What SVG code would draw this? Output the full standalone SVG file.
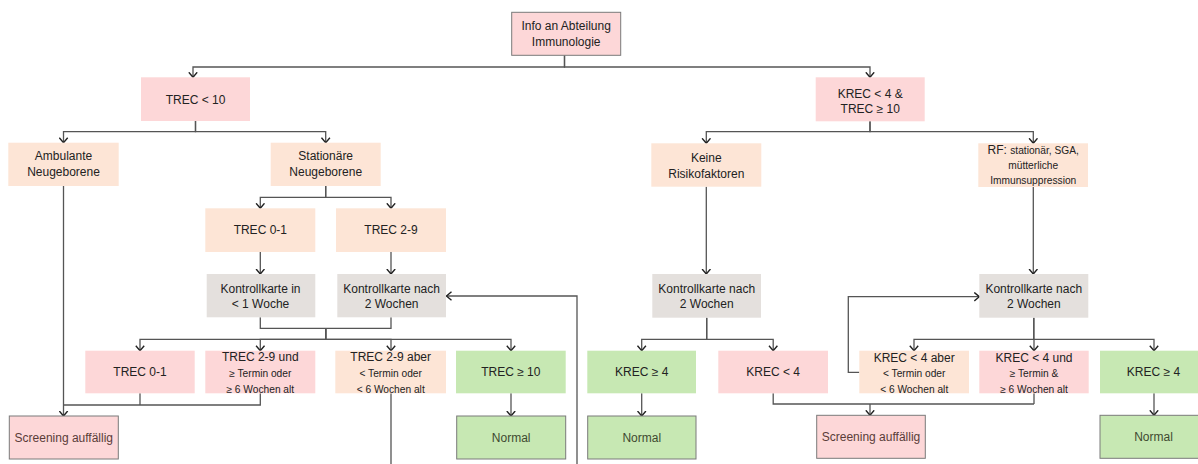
<svg xmlns="http://www.w3.org/2000/svg" width="1198" height="464" viewBox="0 0 1198 464">
<defs>
<marker id="arr" viewBox="0 0 6 10" refX="5.5" refY="5" markerWidth="6" markerHeight="10" markerUnits="userSpaceOnUse" orient="auto">
<path d="M0.5,0.8 L5.5,5 L0.5,9.2" fill="none" stroke="#222" stroke-width="1.4"/>
</marker>
<style>
.pink{fill:#fdd7d8}
.peach{fill:#fde5d6}
.gray{fill:#e4e0dd}
.green{fill:#c7e8b3}
.bord{stroke:#7a7a7a;stroke-width:1}
text{font-family:"Liberation Sans",Arial,sans-serif;font-size:12px;fill:#222;text-anchor:middle}
.s{font-size:10.2px}
.scr{fill:#5a3c38}
.nor{fill:#3e4a30}
.c path{fill:none;stroke:#555;stroke-width:1.3}
.c .a{marker-end:url(#arr)}
</style>
</defs>
<rect width="1198" height="464" fill="#ffffff"/>

<g class="c" id="connectors">
<path class="a" d="M564.5 55.3 V67 H193 V77.3"/>
<path class="a" d="M564.5 55.3 V67 H870 V77.3"/>
<path class="a" d="M195.5 121 V131.7 H63.5 V142.7"/>
<path class="a" d="M195.5 121 V131.7 H325.7 V142.7"/>
<path class="a" d="M870 121.3 V131.7 H706.3 V143.3"/>
<path class="a" d="M870 121.3 V131.7 H1033.3 V143.3"/>
<path class="a" d="M325.7 186 V197.3 H260.3 V208.3"/>
<path class="a" d="M325.7 186 V197.3 H391 V208.3"/>
<path class="a" d="M260.3 252 V274"/>
<path class="a" d="M391 252 V274"/>
<path d="M260.3 317.3 V328.3 H391 V317.3"/>
<path class="a" d="M325.7 328.3 V339.3 H140 V350.7"/>
<path class="a" d="M325.7 328.3 V339.3 H260.3 V350.7"/>
<path class="a" d="M325.7 328.3 V339.3 H391 V350.7"/>
<path class="a" d="M325.7 328.3 V339.3 H511 V350.7"/>
<path class="a" d="M63.5 186 V416"/>
<path d="M260.3 393.3 V405 H63.5"/>
<path d="M140 393.3 V405"/>
<path class="a" d="M391 393.3 V490 H577 V296 H446.5"/>
<path class="a" d="M511 393.3 V416"/>
<path class="a" d="M706.3 186.7 V274"/>
<path class="a" d="M706.7 317.7 V339.3 H641.7 V350.7"/>
<path class="a" d="M706.7 317.7 V339.3 H773.2 V350.7"/>
<path class="a" d="M641.7 393.3 V416"/>
<path d="M773.2 393.3 V404 H1034"/>
<path d="M1034 393.3 V404"/>
<path class="a" d="M870 404 V415.3"/>
<path class="a" d="M1033.3 187 V274"/>
<path class="a" d="M1033.8 317.7 V339.3 H914 V350.7"/>
<path class="a" d="M1033.8 317.7 V339.3 H1034 V350.7"/>
<path class="a" d="M1033.8 339.3 H1154 V350.7"/>
<path class="a" d="M859.3 372.3 H848.3 V296.7 H979.3"/>
<path class="a" d="M1154 393.3 V415.3"/>
</g>

<g id="info"><rect class="pink bord" x="511.7" y="12.3" width="109" height="43"/>
<text x="566.2" y="30.3">Info an Abteilung</text><text x="566.2" y="46">Immunologie</text></g>

<g id="trec10"><rect class="pink" x="141" y="77.3" width="109" height="43.7"/>
<text x="195.5" y="103.6">TREC &lt; 10</text></g>

<g id="krec4trec10"><rect class="pink" x="815.7" y="77.3" width="109" height="44"/>
<text x="870.2" y="97.6">KREC &lt; 4 &amp;</text><text x="870.2" y="113.3">TREC ≥ 10</text></g>

<g id="ambulant"><rect class="peach" x="8.3" y="142.7" width="110.4" height="43.3"/>
<text x="63.5" y="160">Ambulante</text><text x="63.5" y="176">Neugeborene</text></g>

<g id="stationaer"><rect class="peach" x="270.7" y="142.7" width="110" height="43.3"/>
<text x="325.7" y="160">Stationäre</text><text x="325.7" y="176">Neugeborene</text></g>

<g id="keine"><rect class="peach" x="651.3" y="143.3" width="110" height="43.4"/>
<text x="706.3" y="161.5">Keine</text><text x="706.3" y="177.5">Risikofaktoren</text></g>

<g id="rf"><rect class="peach" x="978.3" y="143.3" width="109.7" height="43.7"/>
<text x="1033.2" y="154.3"><tspan>RF: </tspan><tspan class="s">stationär, SGA,</tspan></text>
<text class="s" x="1033.2" y="169">mütterliche</text><text class="s" x="1033.2" y="184">Immunsuppression</text></g>

<g id="trec01a"><rect class="peach" x="205.3" y="208.3" width="110" height="43.7"/>
<text x="260.3" y="234.3">TREC 0-1</text></g>

<g id="trec29a"><rect class="peach" x="336" y="208.3" width="110" height="43.7"/>
<text x="391" y="234.3">TREC 2-9</text></g>

<g id="kk1"><rect class="gray" x="206.7" y="274" width="108.6" height="43.3"/>
<text x="260.5" y="292.6">Kontrollkarte in</text><text x="260.5" y="308.3">&lt; 1 Woche</text></g>

<g id="kk2a"><rect class="gray" x="337.3" y="274" width="108.7" height="43.3"/>
<text x="391.6" y="292.6">Kontrollkarte nach</text><text x="391.6" y="308.3">2 Wochen</text></g>

<g id="kk2b"><rect class="gray" x="652.3" y="274" width="108.7" height="43.7"/>
<text x="706.7" y="292.6">Kontrollkarte nach</text><text x="706.7" y="308.3">2 Wochen</text></g>

<g id="kk2c"><rect class="gray" x="979.3" y="274" width="109" height="43.7"/>
<text x="1033.8" y="292.6">Kontrollkarte nach</text><text x="1033.8" y="308.3">2 Wochen</text></g>

<g id="trec01b"><rect class="pink" x="85.3" y="350.7" width="109.4" height="42.6"/>
<text x="140" y="376.3">TREC 0-1</text></g>

<g id="trec29und"><rect class="pink" x="205.3" y="350.7" width="110" height="42.6"/>
<text x="260.3" y="361">TREC 2-9 und</text><text class="s" x="260.3" y="377">≥ Termin oder</text><text class="s" x="260.3" y="392.5">≥ 6 Wochen alt</text></g>

<g id="trec29aber"><rect class="peach" x="335.3" y="350.7" width="110.7" height="42.6"/>
<text x="390.7" y="361">TREC 2-9 aber</text><text class="s" x="390.7" y="377">&lt; Termin oder</text><text class="s" x="390.7" y="392.5">&lt; 6 Wochen alt</text></g>

<g id="trec10b"><rect class="green" x="456" y="350.7" width="109.7" height="42.6"/>
<text x="510.8" y="376.3">TREC ≥ 10</text></g>

<g id="krec4ok"><rect class="green" x="587.3" y="350.7" width="108.7" height="42.6"/>
<text x="641.7" y="376.3">KREC ≥ 4</text></g>

<g id="krec4low"><rect class="pink" x="718.3" y="350.7" width="109.7" height="42.6"/>
<text x="773.2" y="376.3">KREC &lt; 4</text></g>

<g id="krec4aber"><rect class="peach" x="859.3" y="350.7" width="109.7" height="42.6"/>
<text x="914.2" y="361.5">KREC &lt; 4 aber</text><text class="s" x="914.2" y="377">&lt; Termin oder</text><text class="s" x="914.2" y="392.5">&lt; 6 Wochen alt</text></g>

<g id="krec4und"><rect class="pink" x="979.3" y="350.7" width="109.4" height="42.6"/>
<text x="1034" y="361.5">KREC &lt; 4 und</text><text class="s" x="1034" y="377">≥ Termin &amp;</text><text class="s" x="1034" y="392.5">≥ 6 Wochen alt</text></g>

<g id="krec4okb"><rect class="green" x="1100" y="350.7" width="109" height="42.6"/>
<text x="1153.5" y="376.3">KREC ≥ 4</text></g>

<g id="screen1"><rect class="pink bord" x="9.3" y="416" width="109" height="43"/>
<text class="scr" x="63.8" y="441.6">Screening auffällig</text></g>

<g id="normal1"><rect class="green bord" x="456.7" y="416" width="109" height="43"/>
<text class="nor" x="511.2" y="442.3">Normal</text></g>

<g id="normal2"><rect class="green bord" x="587.7" y="416" width="108.3" height="43"/>
<text class="nor" x="641.8" y="442.3">Normal</text></g>

<g id="screen2"><rect class="pink bord" x="816.7" y="415.3" width="108.6" height="43"/>
<text class="scr" x="871" y="441.3">Screening auffällig</text></g>

<g id="normal3"><rect class="green bord" x="1100" y="415.3" width="108" height="43"/>
<text class="nor" x="1153.5" y="441.3">Normal</text></g>
</svg>
